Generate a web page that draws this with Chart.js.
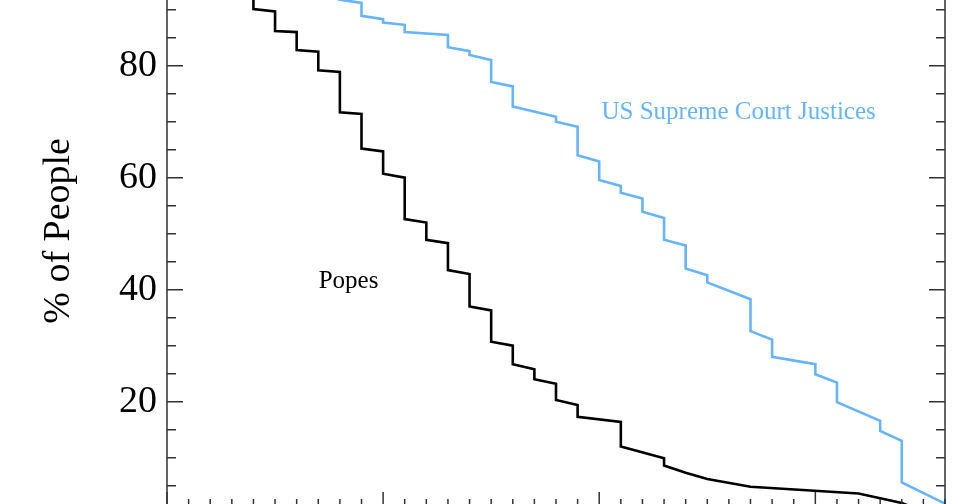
<!DOCTYPE html>
<html>
<head>
<meta charset="utf-8">
<title>Tenure: Popes vs US Supreme Court Justices</title>
<script src="https://cdn.jsdelivr.net/npm/chart.js@4.4.1/dist/chart.umd.min.js"></script>
<style>
  html, body { margin: 0; padding: 0; background: #fff; overflow: hidden; }
  body { width: 960px; height: 504px; position: relative; }
  /* plot is taller than the window: the photo shows a crop of it */
  #wrap { position: absolute; left: 0; top: -90px; width: 960px; height: 640px; }
</style>
</head>
<body>
<div id="wrap"><canvas id="tenureChart"></canvas></div>
<script>
// Years in office (x) and % of people still serving at that many years (y)
const popesYears = [0, 1, 1, 2, 2, 3, 3, 4, 4, 5, 5, 6, 6, 7, 7, 8, 8, 9, 9, 10, 10, 11, 11,
  12, 12, 13, 13, 14, 14, 15, 15, 16, 16, 17, 17, 18, 18, 19, 19, 21, 21, 23, 23, 24, 25, 27, 32, 34, 35];
const popesPct = [100, 99.2, 97.3, 96.9, 95.1, 94.7, 92.6, 92.2, 90.1, 89.7, 86.2, 86.0, 82.8, 82.5, 79.2,
  78.9, 71.7, 71.4, 65.2, 64.7, 60.7, 60.0, 52.6, 52.0, 48.9, 48.3, 43.5, 42.8, 37.0, 36.3, 30.7,
  30.0, 26.7, 25.8, 24.0, 23.2, 20.3, 19.4, 17.3, 16.4, 12.0, 9.9, 8.6, 7.3, 6.2, 4.8, 3.6, 1.9, 0.4];

const justicesYears = [0, 2, 4, 6, 8, 9, 9, 10, 10, 11, 11, 13, 13, 14, 14, 15, 15, 16, 16, 18, 18,
  19, 19, 20, 20, 21, 21, 22, 22, 23, 23, 24, 24, 25, 25, 27, 27, 28, 28, 30, 30, 31, 31, 33, 33, 34, 34, 36];
const justicesPct = [100, 98.5, 96.5, 94.5, 91.8, 91.2, 88.9, 88.3, 87.7, 87.3, 86.0, 85.5, 83.3, 82.6, 81.9,
  81.0, 77.1, 76.3, 72.7, 70.9, 70.0, 69.1, 64.0, 62.9, 59.6, 58.5, 57.3, 56.3, 53.9, 52.8, 48.9,
  47.9, 43.8, 42.6, 41.3, 38.3, 32.6, 31.1, 28.0, 26.7, 24.9, 23.4, 19.9, 16.6, 14.8, 13.0, 5.6, 1.8];

// Axis ticks
const yTickLabels = [20, 40, 60, 80];
const yMinorStep = 5;
const xMajorStep = 10;
const xMinorStep = 1;

const SERIF = "'Liberation Serif', 'DejaVu Serif', 'Times New Roman', serif";
const BLUE = "#66b5fc";

function toPoints(xs, ys) {
  return xs.map((x, i) => ({ x: x, y: ys[i] }));
}

// Inward ticks on all four sides plus the frame
const frameTicks = {
  id: "frameTicks",
  afterDatasetsDraw(chart) {
    const { ctx, chartArea: a, scales } = chart;
    const xs = scales.x, ys = scales.y;
    ctx.save();
    ctx.strokeStyle = "#333";
    ctx.lineWidth = 1.5;
    ctx.strokeRect(a.left, a.top, a.right - a.left, a.bottom - a.top);
    ctx.beginPath();
    for (let v = yMinorStep; v < ys.max; v += yMinorStep) {
      if (v < ys.min) continue;
      const py = ys.getPixelForValue(v);
      const len = v % 20 === 0 ? 16 : 9;
      ctx.moveTo(a.left, py); ctx.lineTo(a.left + len, py);
      ctx.moveTo(a.right, py); ctx.lineTo(a.right - len, py);
    }
    for (let v = xs.min; v <= xs.max; v += xMinorStep) {
      const px = xs.getPixelForValue(v);
      const len = v % xMajorStep === 0 ? 16 : 9;
      ctx.moveTo(px, a.bottom); ctx.lineTo(px, a.bottom - len);
      ctx.moveTo(px, a.top); ctx.lineTo(px, a.top + len);
    }
    ctx.stroke();
    ctx.restore();
  }
};

// Series names written next to the curves
const seriesNames = {
  id: "seriesNames",
  afterDatasetsDraw(chart) {
    const { ctx, scales } = chart;
    ctx.save();
    ctx.font = "25px " + SERIF;
    ctx.textAlign = "center";
    ctx.textBaseline = "middle";
    ctx.fillStyle = BLUE;
    ctx.fillText("US Supreme Court Justices", scales.x.getPixelForValue(26.45), scales.y.getPixelForValue(71.6));
    ctx.fillStyle = "#000";
    ctx.fillText("Popes", scales.x.getPixelForValue(8.4), scales.y.getPixelForValue(41.4));
    ctx.restore();
  }
};

new Chart(document.getElementById("tenureChart"), {
  type: "line",
  data: {
    datasets: [
      {
        label: "Popes",
        data: toPoints(popesYears, popesPct),
        borderColor: "#000",
        borderWidth: 2.6,
        pointRadius: 0,
        tension: 0,
        fill: false
      },
      {
        label: "US Supreme Court Justices",
        data: toPoints(justicesYears, justicesPct),
        borderColor: BLUE,
        borderWidth: 2.6,
        pointRadius: 0,
        tension: 0,
        fill: false
      }
    ]
  },
  options: {
    responsive: true,
    maintainAspectRatio: false,
    animation: false,
    events: [],
    layout: {
      padding: { left: 0, right: 15, top: 43.7, bottom: 41.9 }
    },
    plugins: {
      legend: { display: false },
      tooltip: { enabled: false }
    },
    scales: {
      x: {
        type: "linear",
        min: 0,
        max: 36,
        display: false
      },
      y: {
        type: "linear",
        min: 1,
        max: 100,
        afterBuildTicks: (scale) => {
          scale.ticks = yTickLabels.map((v) => ({ value: v }));
        },
        afterFit: (scale) => {
          scale.width = 167;
        },
        grid: { display: false, drawTicks: false },
        border: { display: false },
        ticks: {
          color: "#000",
          padding: 10,
          font: { family: SERIF, size: 38 }
        },
        title: {
          display: true,
          text: "% of People",
          color: "#000",
          padding: { top: 36, bottom: 0 },
          font: { family: SERIF, size: 38 }
        }
      }
    }
  },
  plugins: [frameTicks, seriesNames]
});
</script>
</body>
</html>
